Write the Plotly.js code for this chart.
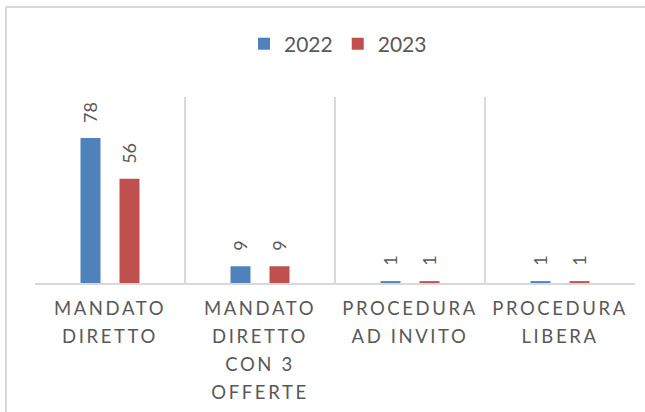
<!DOCTYPE html>
<html>
<head>
<meta charset="utf-8">
<script src="https://cdn.plot.ly/plotly-3.0.1.min.js"></script>
<style>
  html, body { margin: 0; padding: 0; background: #ffffff; }
  #wrap { position: relative; width: 645px; height: 412px; overflow: hidden; }
  #chart { position: absolute; left: 0; top: 0; width: 645px; height: 412px; }
  #frame { position: absolute; left: 5px; top: 6px; width: 700px; height: 500px;
           border: 2px solid #d9d9d9; pointer-events: none; box-sizing: border-box; }
  .xtick text { letter-spacing: 2.6px; }
</style>
</head>
<body>
<div id="wrap">
  <div id="chart"></div>
  <div id="frame"></div>
</div>
<script>
const categories = ["MANDATO DIRETTO", "MANDATO DIRETTO CON 3 OFFERTE", "PROCEDURA AD INVITO", "PROCEDURA LIBERA"];
const categoryLines = [["MANDATO", "DIRETTO"], ["MANDATO", "DIRETTO", "CON 3", "OFFERTE"], ["PROCEDURA", "AD INVITO"], ["PROCEDURA", "LIBERA"]];
const series2022 = [78, 9, 1, 1];
const series2023 = [56, 9, 1, 1];
const seriesNames = ["2022", "2023"];
const colors = ["#4F81BD", "#C0504D"];

const textGray = "#595959";
const x = [0, 1, 2, 3];
const tickText = categoryLines.map(lines =>
  lines.map(l => '<span style="font-size:18.5px">' + l + '</span>').join('<br>'));

const traces = [series2022, series2023].map((vals, i) => ({
  type: 'bar',
  name: seriesNames[i],
  x: x,
  y: vals,
  marker: { color: colors[i] },
  hoverinfo: 'skip'
}));

const annotations = [];
[series2022, series2023].forEach((vals, i) => {
  vals.forEach((v, j) => {
    annotations.push({
      x: x[j], y: v, xref: 'x', yref: 'y',
      text: String(v), showarrow: false,
      textangle: -90, xanchor: 'center', yanchor: 'bottom',
      xshift: i === 0 ? -19.5 : 19.5, yshift: 13,
      font: { family: 'Lato, sans-serif', size: 18, color: textGray }
    });
  });
});

const layout = {
  width: 645, height: 412,
  margin: { l: 35, r: 10, t: 97, b: 129 },
  paper_bgcolor: '#ffffff', plot_bgcolor: '#ffffff',
  font: { family: 'Lato, sans-serif', color: textGray },
  barmode: 'group', bargap: 0.48, bargroupgap: 0.487,
  showlegend: true,
  legend: {
    orientation: 'h', x: 0.505, xanchor: 'center', y: 1.285, yanchor: 'middle',
    font: { size: 21, color: textGray }, itemwidth: 30, traceorder: 'normal'
  },
  xaxis: {
    type: 'linear', range: [-0.5, 3.5],
    tickmode: 'array', tickvals: x, ticktext: tickText,
    showgrid: false, zeroline: false,
    showline: true, linecolor: '#d9d9d9', linewidth: 1.5,
    ticks: '', ticklabelstandoff: 5,
    tickfont: { size: 21.5, color: textGray, family: 'Lato, sans-serif' },
    fixedrange: true
  },
  xaxis2: {
    overlaying: 'x', range: [-0.5, 3.5], tickmode: 'array', tickvals: [-0.5, 0.5, 1.5, 2.5, 3.5],
    showticklabels: false, showgrid: true, gridcolor: '#d9d9d9', gridwidth: 1.5,
    zeroline: false, ticks: ''
  },
  yaxis: {
    range: [0, 100], showgrid: false, zeroline: false, showticklabels: false,
    ticks: '', showline: false, fixedrange: true
  },
  annotations: annotations
};

// invisible helper trace so the category-boundary grid of xaxis2 is drawn
traces.unshift({ type: 'scatter', x: [0], y: [0], xaxis: 'x2', mode: 'none', showlegend: false, hoverinfo: 'skip' });

Plotly.newPlot('chart', traces, layout, { staticPlot: true, displayModeBar: false });
</script>
</body>
</html>
